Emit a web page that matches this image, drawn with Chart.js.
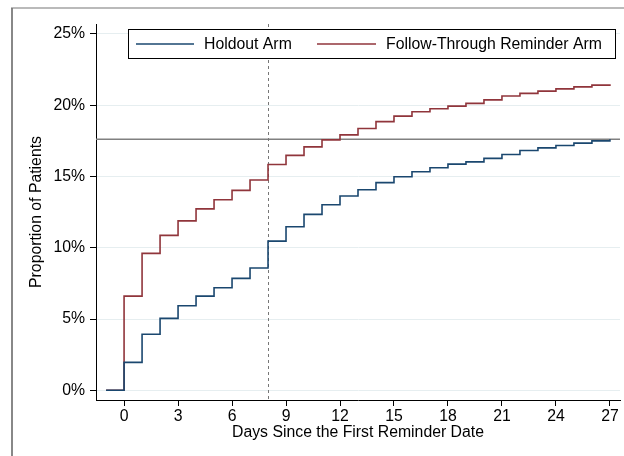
<!DOCTYPE html>
<html><head><meta charset="utf-8">
<script src="https://cdn.jsdelivr.net/npm/chart.js@4/dist/chart.umd.min.js"></script>
<style>html,body{margin:0;padding:0;background:#fff;}</style>
</head><body>
<canvas id="c" width="624" height="456"></canvas>
<script>
// ---- data ----
const days = [-1,0,1,2,3,4,5,6,7,8,9,10,11,12,13,14,15,16,17,18,19,20,21,22,23,24,25,26,27];
const holdoutArm = [0,1.96,3.93,5.05,5.93,6.61,7.20,7.85,8.58,10.47,11.47,12.34,13.02,13.63,14.07,14.57,14.98,15.33,15.61,15.87,16.03,16.27,16.54,16.83,17.01,17.18,17.34,17.50,17.62];
const reminderArm = [0,6.61,9.61,10.87,11.89,12.73,13.37,14.03,14.75,15.84,16.48,17.08,17.57,17.92,18.37,18.85,19.24,19.54,19.75,19.94,20.13,20.38,20.65,20.83,20.99,21.15,21.29,21.41,21.48];
const seriesLabels = ['Holdout Arm','Follow-Through Reminder Arm'];
const xTickValues = [0,3,6,9,12,15,18,21,24,27];
const yTickValues = [0,5,10,15,20,25];
const xAxisTitle = 'Days Since the First Reminder Date';
const yAxisTitle = 'Proportion of Patients';
const referenceDay = 8;
const referenceLevel = holdoutArm[holdoutArm.length-1];

const FONT = '"Liberation Sans", Arial, sans-serif';
const FS = 15.8;
const colors = ['#1a476f','#90353b'];

const refPlugin = {
  id: 'refLines',
  beforeDatasetsDraw(chart) {
    const {ctx, chartArea: a, scales: {x, y}} = chart;
    ctx.save();
    // horizontal reference line
    const yy = y.getPixelForValue(referenceLevel);
    ctx.strokeStyle = '#808080'; ctx.lineWidth = 1.5;
    ctx.beginPath(); ctx.moveTo(a.left, yy); ctx.lineTo(a.right, yy); ctx.stroke();
    // vertical dashed line
    const xx = Math.round(x.getPixelForValue(referenceDay)) + 0.5;
    ctx.strokeStyle = '#777'; ctx.lineWidth = 1; ctx.setLineDash([3,3]);
    ctx.beginPath(); ctx.moveTo(xx, a.top); ctx.lineTo(xx, a.bottom); ctx.stroke();
    ctx.restore();
  },
  afterDraw(chart) {
    const {ctx, chartArea: a} = chart;
    ctx.save();
    // outer frame
    ctx.fillStyle = '#888';
    ctx.fillRect(11, 8, 2, 456);
    ctx.fillStyle = '#777';
    ctx.fillRect(11, 7.5, 624, 1);
    // legend box
    const bx = a.left + 32.5, by = 29.5, bw = 487, bh = 29;
    ctx.fillStyle = '#fff'; ctx.fillRect(bx, by, bw, bh);
    ctx.strokeStyle = '#000'; ctx.lineWidth = 1; ctx.strokeRect(bx, by, bw, bh);
    const cy = by + bh/2;
    ctx.font = FS + 'px ' + FONT;
    ctx.textBaseline = 'middle';
    ctx.textAlign = 'left';
    const items = [[136,194,204],[317,376,386]];
    chart.data.datasets.forEach((ds, i) => {
      const [l0,l1,tx] = items[i];
      ctx.strokeStyle = ds.borderColor; ctx.lineWidth = 1.6;
      ctx.beginPath(); ctx.moveTo(l0, cy); ctx.lineTo(l1, cy); ctx.stroke();
      ctx.fillStyle = '#000';
      ctx.fillText(ds.label, tx, cy + 0.5);
    });
    ctx.restore();
  }
};

new Chart(document.getElementById('c'), {
  type: 'line',
  data: {
    datasets: [
      {label: seriesLabels[0], data: days.map((d,i)=>({x:d, y:holdoutArm[i]})), borderColor: colors[0]},
      {label: seriesLabels[1], data: days.map((d,i)=>({x:d, y:reminderArm[i]})), borderColor: colors[1]}
    ].map(d => Object.assign(d, {stepped: true, pointRadius: 0, borderWidth: 1.6, fill: false}))
  },
  options: {
    responsive: false, animation: false, devicePixelRatio: 1,
    layout: {padding: {left: 0, top: 24, right: 4, bottom: 0}},
    plugins: {legend: {display: false}, tooltip: {enabled: false}},
    scales: {
      x: {
        type: 'linear', min: -1.56, max: 27.56,
        afterBuildTicks: s => { s.ticks = xTickValues.map(v => ({value: v})); },
        afterFit: s => { s.height = 56; },
        ticks: {color: '#000', font: {family: FONT, size: FS}, padding: 1, maxRotation: 0, autoSkip: false},
        grid: {drawOnChartArea: false, drawTicks: true, tickLength: 6, tickColor: '#000'},
        border: {display: true, color: '#000', width: 1},
        title: {display: true, text: xAxisTitle, color: '#000', font: {family: FONT, size: FS}, padding: {top: 0, bottom: 14}}
      },
      y: {
        type: 'linear', min: -0.68, max: 25.7,
        afterBuildTicks: s => { s.ticks = yTickValues.map(v => ({value: v})); },
        afterFit: s => { s.width = 96; },
        ticks: {color: '#000', font: {family: FONT, size: FS}, padding: 5, callback: v => v + '%'},
        grid: {color: '#e6eef0', lineWidth: 1, drawTicks: true, tickLength: 6, tickColor: '#000'},
        border: {display: true, color: '#000', width: 1},
        title: {display: true, text: yAxisTitle, color: '#000', font: {family: FONT, size: FS}, padding: {top: 27, bottom: 0}}
      }
    }
  },
  plugins: [refPlugin]
});
</script>
</body></html>
